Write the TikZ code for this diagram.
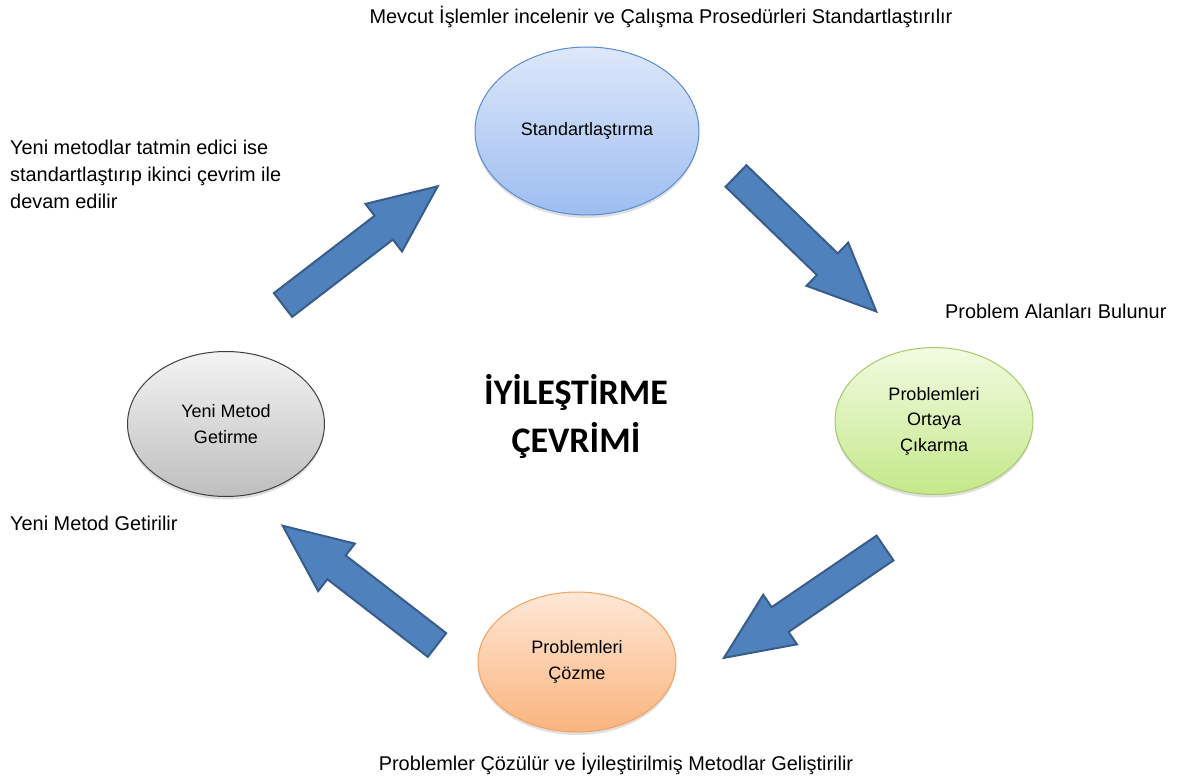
\documentclass[tikz,border=0pt]{standalone}
\usepackage{fontspec}
\setmainfont{Liberation Sans}
\newfontfamily\titlefont{Carlito}
\usetikzlibrary{shapes.geometric,shadows}
\definecolor{arrfill}{HTML}{4F81BD}
\definecolor{arrdraw}{HTML}{385D8A}
\definecolor{bluetop}{HTML}{DDE8FA}
\definecolor{bluebot}{HTML}{9DBDF0}
\definecolor{blueedge}{HTML}{5B8BD0}
\definecolor{greentop}{HTML}{F2FBE0}
\definecolor{greenbot}{HTML}{C4E88A}
\definecolor{greenedge}{HTML}{A6C96A}
\definecolor{graytop}{HTML}{F4F4F4}
\definecolor{graybot}{HTML}{BEBEBE}
\definecolor{grayedge}{HTML}{3F3F3F}
\definecolor{orgtop}{HTML}{FEE8D6}
\definecolor{orgbot}{HTML}{F9B47E}
\definecolor{orgedge}{HTML}{F4A060}
\tikzset{
  x=1pt, y=1pt,
  stage/.style={ellipse, draw, line width=1pt, align=center, inner sep=0pt,
    font=\fontsize{18}{25.5}\selectfont,
    drop shadow={opacity=0.25, shadow xshift=0pt, shadow yshift=-3pt}},
  label/.style={font=\fontsize{19.9}{27}\selectfont, inner sep=0pt},
  bigarrow/.style={fill=arrfill, draw=arrdraw, line width=2pt, line join=miter},
}
\newcommand\blockarrow[4]{% name, tail x, tail y, angle
  \begin{scope}[shift={(#2,#3)}, rotate=#4]
    \draw[bigarrow] (0,-15) -- (\arrlen-68,-15) -- (\arrlen-68,-30) -- (\arrlen,0)
      -- (\arrlen-68,30) -- (\arrlen-68,15) -- (0,15) -- cycle;
    \coordinate (#1) at (\arrlen/2,0);
  \end{scope}}
\def\arrlen{195}
\begin{document}
\begin{tikzpicture}
\useasboundingbox[fill=white] (0,0) rectangle (1178,-781);

% ellipses
\node[stage, minimum width=224pt, minimum height=168pt, top color=bluetop, bottom color=bluebot, draw=blueedge]
  (std) at (587,-131) {Standartlaştırma};
\node[stage, minimum width=198pt, minimum height=147pt, top color=greentop, bottom color=greenbot, draw=greenedge]
  (find) at (934,-421) {Problemleri\\Ortaya\\Çıkarma};
\node[stage, minimum width=198pt, minimum height=140pt, top color=orgtop, bottom color=orgbot, draw=orgedge]
  (solve) at (577,-662) {Problemleri\\Çözme};
\node[stage, minimum width=197pt, minimum height=145pt, top color=graytop, bottom color=graybot, draw=grayedge]
  (newm) at (226,-424) {Yeni Metod\\Getirme};

% block arrows
\blockarrow{a1}{283}{-305}{37.5}
\blockarrow{a2}{736}{-176}{-44}
\blockarrow{a3}{885}{-548}{214.3}
\blockarrow{a4}{437}{-645}{142.3}

% title
\node[font=\titlefont\bfseries\fontsize{36}{48}\selectfont, align=center, inner sep=0pt]
  (title) at (576,-416) {İYİLEŞTİRME\\ÇEVRİMİ};

% labels
\node[label, anchor=base] (l1) at (661,-24) {Mevcut İşlemler incelenir ve Çalışma Prosedürleri Standartlaştırılır};
\node[label, anchor=base west, align=left] (l2) at (10,-208) {Yeni metodlar tatmin edici ise\\standartlaştırıp ikinci çevrim ile\\devam edilir};
\node[label, anchor=base west] (l3) at (945,-318) {Problem Alanları Bulunur};
\node[label, anchor=base west] (l4) at (10,-530) {Yeni Metod Getirilir};
\node[label, anchor=base] (l5) at (616,-770) {Problemler Çözülür ve İyileştirilmiş Metodlar Geliştirilir};
\end{tikzpicture}
\end{document}
